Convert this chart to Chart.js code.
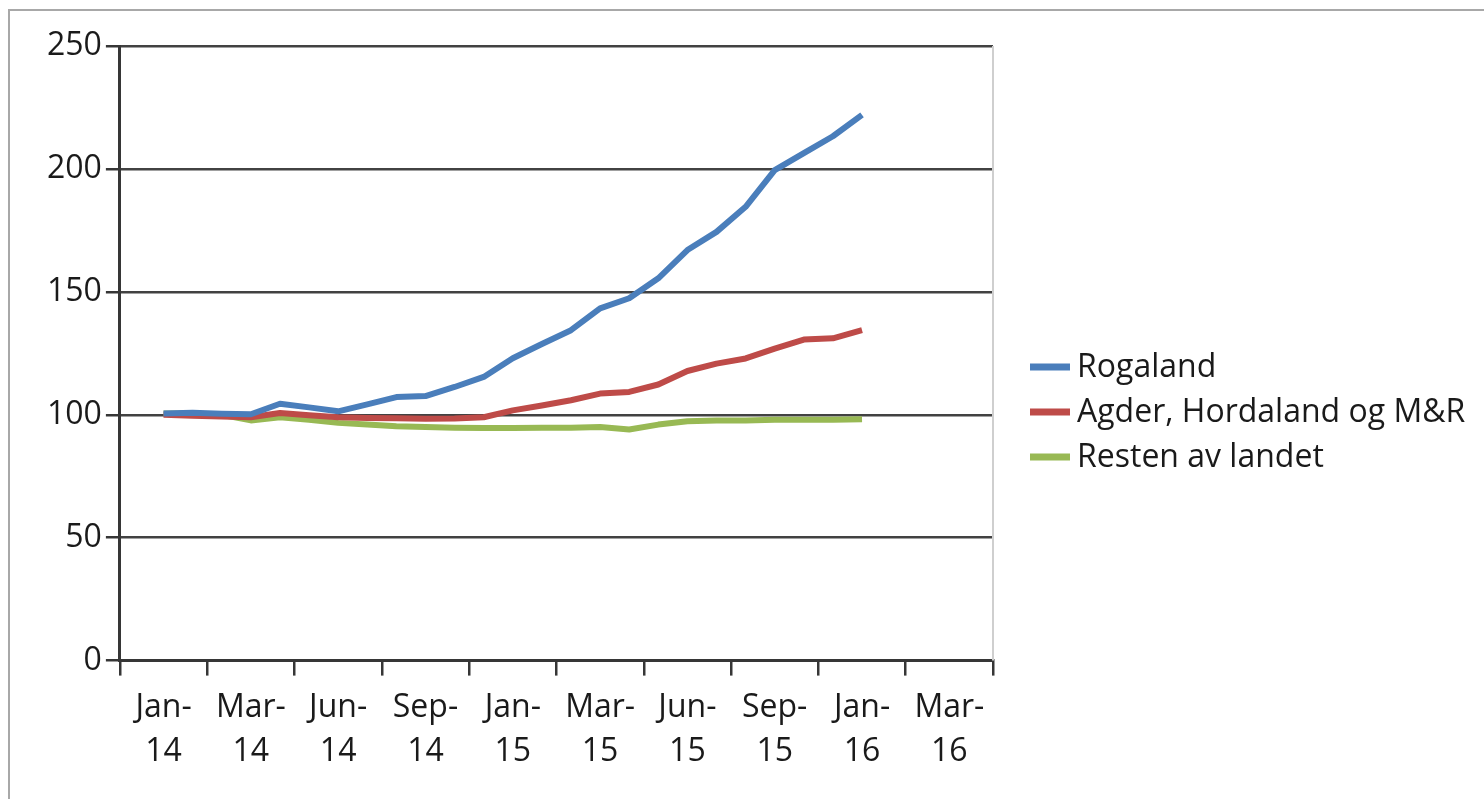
<!DOCTYPE html>
<html>
<head>
<meta charset="utf-8">
<script src="https://cdn.jsdelivr.net/npm/chart.js@4.4.1/dist/chart.umd.min.js"></script>
<style>
	html, body { margin: 0; padding: 0; background: #ffffff; }
	#wrap { position: relative; width: 1484px; height: 799px; overflow: hidden; }
	#frame { position: absolute; left: 8px; top: 9px; right: -4px; bottom: -4px; border-left: 2px solid #a8a8a8; border-top: 2px solid #a8a8a8; pointer-events: none; }
	canvas { position: absolute; left: 0; top: 0; }
</style>
</head>
<body>
<div id="wrap">
	<canvas id="chart" width="1484" height="799"></canvas>
	<div id="frame"></div>
</div>
<script>
// x-axis categories (two-line labels)
const categories = [
	['Jan-', '14'], ['Mar-', '14'], ['Jun-', '14'], ['Sep-', '14'], ['Jan-', '15'],
	['Mar-', '15'], ['Jun-', '15'], ['Sep-', '15'], ['Jan-', '16'], ['Mar-', '16']
];

// monthly observations, Jan 2014 .. Jan 2016
const months = [
	'2014-01', '2014-02', '2014-03', '2014-04', '2014-05', '2014-06', '2014-07', '2014-08', '2014-09',
	'2014-10', '2014-11', '2014-12', '2015-01', '2015-02', '2015-03', '2015-04', '2015-05', '2015-06',
	'2015-07', '2015-08', '2015-09', '2015-10', '2015-11', '2015-12', '2016-01'
];

const rogaland = [
	100.5, 100.8, 100.4, 100.2, 104.5, 103.0, 101.4, 104.2, 107.2, 107.6, 111.3, 115.4, 123.0,
	128.8, 134.4, 143.3, 147.4, 155.5, 167.0, 174.4, 184.6, 199.5, 206.4, 213.3, 222.0
];

const agderHordaland = [
	100.0, 99.6, 99.3, 99.0, 100.7, 99.8, 99.0, 98.7, 98.6, 98.4, 98.5, 99.0, 101.8,
	103.8, 105.9, 108.6, 109.3, 112.3, 117.8, 120.8, 122.9, 126.9, 130.6, 131.1, 134.4
];

const restenAvLandet = [
	100.5, 100.5, 100.0, 97.7, 99.0, 98.0, 96.7, 96.0, 95.3, 95.0, 94.7, 94.6, 94.6,
	94.7, 94.7, 95.0, 94.0, 96.0, 97.4, 97.7, 97.7, 98.0, 98.0, 98.0, 98.2
];

const yTicks = [0, 50, 100, 150, 200, 250];

// each category spans three months; first month sits in the middle of the first category
const MONTHS_PER_CAT = 3;
const toPoints = (values) => values.map((v, i) => ({ x: i + MONTHS_PER_CAT / 2, y: v }));

const axisColor = '#363636';
const gridColor = '#424242';
const textColor = '#1a1a1a';
const fontFamily = "'Open Sans', 'DejaVu Sans', sans-serif";
const fontSize = 32;

const plotRightBorder = {
	id: 'plotRightBorder',
	afterDraw(chart) {
		const { ctx, chartArea } = chart;
		ctx.save();
		ctx.strokeStyle = '#cfcfcf';
		ctx.lineWidth = 2;
		ctx.beginPath();
		ctx.moveTo(chartArea.right, chartArea.top);
		ctx.lineTo(chartArea.right, chartArea.bottom);
		ctx.stroke();
		ctx.restore();
	}
};

// legend on the right, drawn from the datasets (the built-in one is capped in width)
const sideLegend = {
	id: 'sideLegend',
	afterDraw(chart) {
		const { ctx } = chart;
		const boxX = 1030, boxW = 40, boxH = 7, textX = 1077, rowGap = 45;
		const sets = chart.data.datasets;
		const midY = 412;
		const firstY = midY - rowGap * (sets.length - 1) / 2;
		ctx.save();
		ctx.font = `${fontSize}px ${fontFamily}`;
		ctx.textBaseline = 'middle';
		ctx.textAlign = 'left';
		sets.forEach((ds, i) => {
			const y = firstY + i * rowGap;
			ctx.fillStyle = ds.borderColor;
			ctx.fillRect(boxX, y - boxH / 2, boxW, boxH);
			ctx.fillStyle = textColor;
			ctx.fillText(ds.label, textX, y + 1);
		});
		ctx.restore();
	}
};

const series = [
	{ label: 'Rogaland', data: rogaland, color: '#4a7ebb' },
	{ label: 'Agder, Hordaland og M&R', data: agderHordaland, color: '#be4b48' },
	{ label: 'Resten av landet', data: restenAvLandet, color: '#98b954' }
];

new Chart(document.getElementById('chart'), {
	type: 'line',
	data: {
		datasets: series.map(s => ({
			label: s.label,
			data: toPoints(s.data),
			borderColor: s.color,
			backgroundColor: s.color,
			borderWidth: 6,
			pointRadius: 0,
			tension: 0,
			borderJoinStyle: 'round',
			borderCapStyle: 'butt',
			fill: false
		}))
	},
	options: {
		responsive: false,
		animation: false,
		layout: {
			padding: { left: 43, top: 46, right: 491, bottom: 15 }
		},
		scales: {
			x: {
				type: 'linear',
				min: 0,
				max: categories.length * MONTHS_PER_CAT,
				afterBuildTicks: (scale) => {
					const ticks = [];
					for (let i = 0; i <= categories.length; i++) {
						ticks.push({ value: i * MONTHS_PER_CAT });
						if (i < categories.length) ticks.push({ value: i * MONTHS_PER_CAT + MONTHS_PER_CAT / 2 });
					}
					scale.ticks = ticks;
				},
				ticks: {
					autoSkip: false,
					maxRotation: 0,
					padding: 11,
					color: textColor,
					font: { family: fontFamily, size: fontSize, lineHeight: 1.35 },
					callback: (value) => {
						const idx = (value - MONTHS_PER_CAT / 2) / MONTHS_PER_CAT;
						return Number.isInteger(idx) ? categories[idx] : '';
					}
				},
				grid: {
					drawOnChartArea: false,
					tickLength: 15,
					lineWidth: 2.5,
					tickColor: (ctx) => (ctx.tick && ctx.tick.value % MONTHS_PER_CAT === 0) ? axisColor : 'rgba(0,0,0,0)'
				},
				border: { display: true, color: axisColor, width: 3 }
			},
			y: {
				min: 0,
				max: 250,
				afterBuildTicks: (scale) => {
					scale.ticks = yTicks.map(v => ({ value: v }));
				},
				ticks: {
					padding: 4,
					color: textColor,
					font: { family: fontFamily, size: fontSize, lineHeight: 1.2 }
				},
				grid: {
					color: gridColor,
					lineWidth: 2.5,
					tickLength: 14,
					tickColor: axisColor
				},
				border: { display: true, color: axisColor, width: 3 }
			}
		},
		plugins: {
			legend: { display: false },
			tooltip: { enabled: false }
		}
	},
	plugins: [plotRightBorder, sideLegend]
});
</script>
</body>
</html>
